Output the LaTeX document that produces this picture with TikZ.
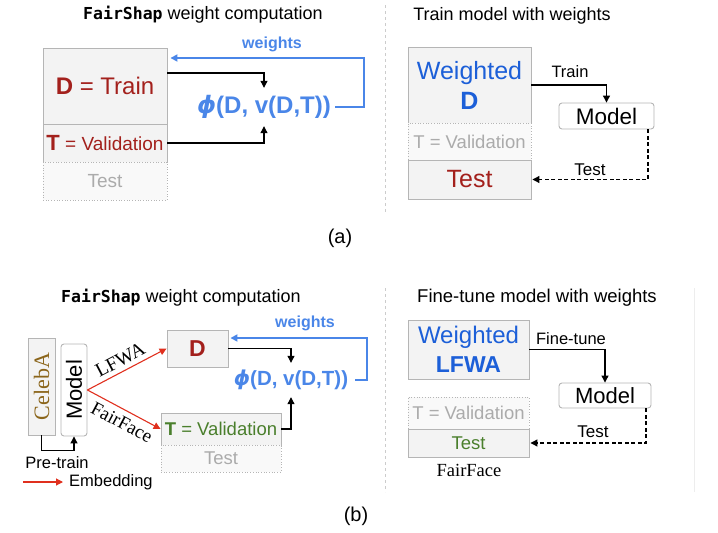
\documentclass[tikz,border=0pt]{standalone}
\usepackage{fontspec}
\setmainfont{Liberation Sans}
\newfontfamily\monof{DejaVu Sans Mono}
\newfontfamily\serf{Liberation Serif}
\newfontfamily\dvs{DejaVu Sans}
\usetikzlibrary{arrows.meta,shadows}
\definecolor{dred}{HTML}{A3201C}
\definecolor{phib}{HTML}{4A86E8}
\definecolor{wblue}{HTML}{1C5FD8}
\definecolor{dgreen}{HTML}{4A7F2C}
\definecolor{brn}{HTML}{8B651A}
\definecolor{gtxt}{HTML}{ABABAB}
\definecolor{boxf}{HTML}{F3F3F3}
\definecolor{boxf2}{HTML}{F9F9F9}
\definecolor{bordc}{HTML}{B5B5B5}
\definecolor{sepc}{HTML}{CCCCCC}
\definecolor{redar}{HTML}{E0301E}
\newcommand\fsz[1]{\fontsize{#1}{#1}\selectfont}
\newcommand\phisym{{\dvs\bfseries\itshape ϕ}}
\tikzset{
  box/.style={draw=bordc, fill=boxf, line width=0.9pt, inner sep=0pt,
    drop shadow={shadow xshift=0.6pt, shadow yshift=-0.8pt, opacity=0.18}},
  dbox/.style={draw=bordc, dotted, fill=boxf2, line width=0.7pt, inner sep=0pt},
  mbox/.style={draw=bordc, fill=white, rounded corners=3pt, line width=0.9pt, inner sep=0pt},
  arr/.style={-{Triangle[length=7pt,width=7pt]}, line width=1.1pt},
  barr/.style={-{Triangle[length=7pt,width=7pt]}, line width=1.7pt, draw=phib, color=phib},
  rarr/.style={-{Triangle[length=7pt,width=7pt]}, line width=1.1pt, draw=redar, color=redar},
  darr/.style={arr, dash pattern=on 4pt off 2.5pt},
  lbl/.style={inner sep=0pt},
  sep/.style={draw=sepc, dashed, line width=0.7pt},
}
\begin{document}
\begin{tikzpicture}[x=1pt,y=-1pt]
\useasboundingbox (0,0) rectangle (718,533);
% ---------------- (a) ----------------
\node[lbl] (ta1) at (203,15) {\fsz{18}{\monof\bfseries\fsz{16.5}FairShap} weight computation};
\node[lbl] (ta2) at (512,16) {\fsz{18}Train model with weights};
\draw[sep] (385,5) -- (385,212);

\node[box, minimum width=124pt, minimum height=76pt] (Da) at (105,86)
  {\fsz{24}\color{dred}\textbf{D} = Train};
\node[box, minimum width=124pt, minimum height=38pt] (Ta) at (105,143)
  {\color{dred}\fsz{22}\textbf{T}\fsz{19} = Validation};
\node[dbox, minimum width=124pt, minimum height=38pt] (Sa) at (105,181)
  {\fsz{19}\color{gtxt}Test};
\node[lbl, minimum height=38pt, inner xsep=4pt] (Pa) at (264,107)
  {\color{phib}\fsz{24}\phisym\textbf{(D, v(D,T))}};
\node[lbl] (wa) at (272,44) {\fsz{16}\color{phib}\textbf{weights}};
\draw[arr] ([yshift=13pt]Da.east) -| (Pa.north);
\draw[arr] (Ta.east) -| (Pa.south);
\draw[barr] (Pa.east) -- ++(29,0) |- ([yshift=28pt,xshift=3pt]Da.east);

\node[box, minimum width=123pt, minimum height=76pt, align=center, font=\fsz{25}, text=wblue] (WDa) at (469.5,85)
  {Weighted\\[5pt]\textbf{D}};
\node[dbox, minimum width=123pt, minimum height=37pt] (TVa) at (469.5,141.5)
  {\fsz{18.5}\color{gtxt}T = Validation};
\node[box, minimum width=123pt, minimum height=39pt] (Ra) at (469.5,179.5)
  {\fsz{25}\color{dred}Test};
\node[mbox, minimum width=95pt, minimum height=26pt] (Ma) at (606.5,116)
  {\fsz{22.5}Model};
\draw[arr] (WDa.east) -| (Ma.north);
\node[lbl] (trl) at (570,72) {\fsz{16.5}Train};
\draw[darr] ([xshift=41.5pt]Ma.south) |- ([xshift=1pt]Ra.east);
\node[lbl] (tel) at (590,170) {\fsz{17}Test};

\node[lbl] (capa) at (340,238) {\fsz{20}(a)};

% ---------------- (b) ----------------
\node[lbl] (tb1) at (181,298) {\fsz{18}{\monof\bfseries\fsz{16.5}FairShap} weight computation};
\node[lbl] (tb2) at (537,298) {\fsz{18.5}Fine-tune model with weights};
\draw[sep] (385,288) -- (385,492);
\draw[draw=black!7, line width=0.8pt] (694,288) -- (694,492);

\node[box, minimum width=27pt, minimum height=97pt] (Cb) at (41.5,386.5) {};
\node[lbl, rotate=90] (Cbt) at (Cb.center) {\serf\fsz{22}\color{brn}CelebA};
\node[mbox, minimum width=26pt, minimum height=92pt] (Mb) at (74,390) {};
\node[lbl, rotate=90] (Mbt) at (Mb.center) {\fsz{22}Model};
\draw[arr] (Cb.south) -- ++(0,15) -| (Mb.south);
\node[lbl] (ptl) at (57,463) {\fsz{16.5}Pre-train};
\coordinate (lg1) at (23,482);
\coordinate (lg2) at (63,482);
\draw[rarr] (lg1) -- (lg2);
\node[lbl, anchor=west] (emb) at (69,482) {\fsz{16.5}Embedding};

\node[box, minimum width=61pt, minimum height=37pt] (Db) at (197.5,348.5)
  {\fsz{23}\color{dred}\textbf{D}};
\node[box, minimum width=120pt, minimum height=32pt] (Tb) at (221,429)
  {\fsz{18.5}\color{dgreen}\textbf{T} = Validation};
\node[dbox, minimum width=120pt, minimum height=27pt] (Sb) at (221,458.5)
  {\fsz{18.5}\color{gtxt}Test};
\draw[rarr] (Mb.east) -- node[sloped, above=1pt, pos=0.48, text=black] {\serf\fsz{19.5}LFWA} (Db.west);
\draw[rarr] (Mb.east) -- node[sloped, below=2pt, pos=0.55, text=black] {\serf\fsz{19}FairFace} (Tb.west);

\node[lbl, minimum height=34pt, inner xsep=7pt] (Pb) at (291,380)
  {\color{phib}\fsz{20.5}\phisym\textbf{(D, v(D,T))}};
\node[lbl] (wb) at (305,323) {\fsz{16}\color{phib}\textbf{weights}};
\draw[arr] (Db.east) -| (Pb.north);
\draw[arr] (Tb.east) -| (Pb.south);
\draw[barr] (Pb.east) -- ++(12,0) |- ([yshift=10.5pt,xshift=2pt]Db.east);

\node[box, minimum width=121pt, minimum height=59pt, align=center, font=\fsz{24}, text=wblue] (WLb) at (468.5,349.5)
  {Weighted\\[5pt]\fsz{23}\textbf{LFWA}};
\node[dbox, minimum width=121pt, minimum height=32pt] (TVb) at (468.5,413)
  {\fsz{18.5}\color{gtxt}T = Validation};
\node[box, minimum width=121pt, minimum height=28pt] (Rb) at (468.5,443)
  {\fsz{18.5}\color{dgreen}Test};
\node[lbl] (ffl) at (469,470) {\serf\fsz{18.5}FairFace};
\node[mbox, minimum width=92pt, minimum height=25pt] (Mr) at (605,395.5)
  {\fsz{22}Model};
\draw[arr] (WLb.east) -| (Mr.north);
\node[lbl] (ftl) at (571,339) {\fsz{16.5}Fine-tune};
\draw[darr] ([xshift=41pt]Mr.south) |- ([xshift=1pt]Rb.east);
\node[lbl] (tel2) at (593,432) {\fsz{17}Test};

\node[lbl] (capb) at (356,516) {\fsz{20}(b)};
\end{tikzpicture}
\end{document}
